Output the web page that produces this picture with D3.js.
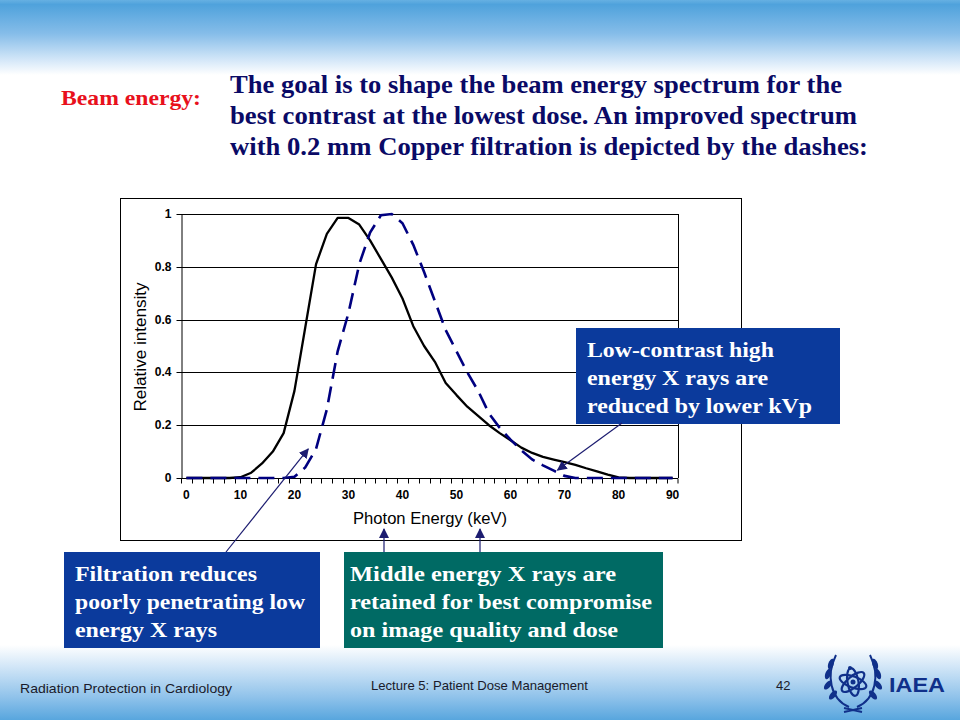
<!doctype html>
<html>
  <head>
    <title>Beam energy spectrum</title>
    <style>
      body { margin: 0; background: #fff; }
      .serif { font-family: "Liberation Serif", "Times New Roman", Times, serif; font-weight: bold; }
      .sans { font-family: "Liberation Sans", Arial, sans-serif; }
      .narrow { font-family: "Liberation Sans Narrow", "Arial Narrow", "Liberation Sans", Arial, sans-serif; }
      .tick-label { font-size: 12px; font-weight: bold; }
    </style>
  </head>
  <body>
    <div id="content"></div>

    <script src="https://d3js.org/d3.v7.min.js"></script>
    <script>
      // photon energy categories (keV) and relative intensities
      const energy = [0, 2, 4, 6, 8, 10, 12, 14, 16, 18, 20, 22, 24, 26, 28, 30, 32, 34, 36, 38, 40, 42, 44,
        46, 48, 50, 52, 54, 56, 58, 60, 62, 64, 66, 68, 70, 72, 74, 76, 78, 80, 82, 84, 86, 88, 90];
      const unfiltered = [0, 0, 0, 0, 0, 0.003, 0.02, 0.055, 0.10, 0.17, 0.33, 0.57, 0.81, 0.925, 0.985, 0.985,
        0.96, 0.90, 0.83, 0.76, 0.68, 0.575, 0.50, 0.44, 0.36, 0.314, 0.27, 0.235, 0.20, 0.17, 0.143, 0.115,
        0.095, 0.08, 0.07, 0.06, 0.05, 0.037, 0.025, 0.013, 0.002, 0, 0, 0, 0, 0];
      const copperFiltered = [0, 0, 0, 0, 0, 0, 0, 0, 0, 0, 0.005, 0.04, 0.11, 0.26, 0.48, 0.625, 0.81, 0.93,
        0.995, 1.0, 0.965, 0.883, 0.78, 0.67, 0.56, 0.48, 0.40, 0.33, 0.245, 0.19, 0.145, 0.105, 0.07, 0.048,
        0.028, 0.008, 0, 0, 0, 0, 0, 0, 0, 0, 0, 0];
      const xLabels = [0, 10, 20, 30, 40, 50, 60, 70, 80, 90];
      const yTicks = [0, 0.2, 0.4, 0.6, 0.8, 1];

      const headerLines = [
        'The goal is to shape the beam energy spectrum for the',
        'best contrast at the lowest dose. An improved spectrum',
        'with 0.2 mm Copper filtration is depicted by the dashes:'
      ];
      const headerWidths = [612, 627, 638];

      const notes = [
        { lines: ['Low-contrast high', 'energy X rays are', 'reduced by lower kVp'], fill: '#0b3a9c',
          box: [576, 328, 264, 96], pad: 11, widths: [187, 181, 225] },
        { lines: ['Filtration reduces', 'poorly penetrating low', 'energy X rays'], fill: '#0b3a9c',
          box: [64, 552, 256, 96], pad: 11, widths: [182, 230, 142] },
        { lines: ['Middle energy X rays are', 'retained for best compromise', 'on image quality and dose'],
          fill: '#006a64', box: [344, 552, 319, 96], pad: 6, widths: [266, 302, 268] }
      ];

      const W = 960, H = 720;
      const plot = { left: 181, right: 678, top: 214, bottom: 478 };

      const svg = d3.select('#content')
        .append('svg')
        .attr('width', W)
        .attr('height', H);

      const defs = svg.append('defs');
      const topGrad = defs.append('linearGradient').attr('id', 'top-grad')
        .attr('x1', 0).attr('y1', 0).attr('x2', 0).attr('y2', 1);
      [[0, '#66b0e2'], [0.06, '#4fa2dc'], [0.45, '#86bde9'], [0.8, '#d4e7f8'], [1, '#ffffff']]
        .forEach(([o, c]) => topGrad.append('stop').attr('offset', o).attr('stop-color', c));
      const bottomGrad = defs.append('linearGradient').attr('id', 'bottom-grad')
        .attr('x1', 0).attr('y1', 0).attr('x2', 0).attr('y2', 1);
      [[0, '#ffffff'], [0.3, '#d0e5f7'], [0.7, '#8fc2ea'], [1, '#58a6de']]
        .forEach(([o, c]) => bottomGrad.append('stop').attr('offset', o).attr('stop-color', c));

      defs.append('marker')
        .attr('id', 'arrow')
        .attr('viewBox', '0 0 10 10')
        .attr('refX', 9).attr('refY', 5)
        .attr('markerWidth', 10).attr('markerHeight', 10)
        .attr('markerUnits', 'userSpaceOnUse')
        .attr('orient', 'auto')
        .append('path')
        .attr('d', 'M0,0 L10,5 L0,10 Z')
        .attr('fill', '#1c1c70');

      svg.append('rect').attr('width', W).attr('height', 75).attr('fill', 'url(#top-grad)');
      svg.append('rect').attr('y', 645).attr('width', W).attr('height', 75).attr('fill', 'url(#bottom-grad)');

      // slide heading
      svg.append('text')
        .attr('class', 'serif')
        .attr('x', 61).attr('y', 105)
        .attr('font-size', 21)
        .attr('textLength', 140)
        .attr('lengthAdjust', 'spacingAndGlyphs')
        .attr('fill', '#e8101c')
        .text('Beam energy:');

      svg.append('g')
        .selectAll('text')
        .data(headerLines)
        .join('text')
        .attr('class', 'serif')
        .attr('x', 230)
        .attr('y', (d, i) => 93 + i * 31)
        .attr('font-size', 25)
        .attr('textLength', (d, i) => headerWidths[i])
        .attr('lengthAdjust', 'spacingAndGlyphs')
        .attr('fill', '#0a0a66')
        .text(d => d);

      // chart frame
      svg.append('rect')
        .attr('x', 120.5).attr('y', 198.5)
        .attr('width', 621).attr('height', 342)
        .attr('fill', '#fff')
        .attr('stroke', '#000');

      const x = d3.scaleBand()
        .domain(energy)
        .range([plot.left, plot.right])
        .padding(0);
      const y = d3.scaleLinear()
        .domain([0, 1])
        .range([plot.bottom, plot.top]);
      const xc = d => x(d) + x.bandwidth() / 2;

      // gridlines
      svg.append('g')
        .selectAll('line')
        .data(yTicks.slice(1))
        .join('line')
        .attr('x1', plot.left).attr('x2', plot.right)
        .attr('y1', d => Math.round(y(d)) + 0.5).attr('y2', d => Math.round(y(d)) + 0.5)
        .attr('stroke', '#000');

      svg.append('line')
        .attr('x1', plot.right + 0.5).attr('x2', plot.right + 0.5)
        .attr('y1', plot.top).attr('y2', plot.bottom)
        .attr('stroke', '#000');

      // y axis
      const yAxis = svg.append('g')
        .attr('transform', `translate(${plot.left + 0.5},0.5)`)
        .call(d3.axisLeft(y).tickValues(yTicks).tickFormat(d3.format('')).tickSize(5).tickSizeOuter(0));
      yAxis.selectAll('text').attr('class', 'sans tick-label').attr('fill', '#000').attr('dx', -2);
      yAxis.selectAll('line, path').attr('stroke', '#000');
      yAxis.selectAll('.tick').attr('transform', d => `translate(0,${Math.round(y(d))})`);

      // x axis: ticks on category boundaries, labels every 10 keV
      const xAxis = svg.append('g').attr('transform', `translate(0,${Math.round(plot.bottom) + 0.5})`);
      xAxis.append('line')
        .attr('x1', plot.left).attr('x2', plot.right)
        .attr('stroke', '#000');
      xAxis.selectAll('line.tk')
        .data(energy.concat(['end']))
        .join('line')
        .attr('class', 'tk')
        .attr('x1', d => d === 'end' ? plot.right : Math.round(x(d)) + 0.5)
        .attr('x2', d => d === 'end' ? plot.right : Math.round(x(d)) + 0.5)
        .attr('y1', 0).attr('y2', 5)
        .attr('stroke', '#000');
      xAxis.selectAll('text')
        .data(xLabels)
        .join('text')
        .attr('class', 'sans tick-label')
        .attr('x', d => xc(d))
        .attr('y', 20)
        .attr('text-anchor', 'middle')
        .text(d => d);

      svg.append('text')
        .attr('class', 'sans')
        .attr('transform', `translate(146,${(plot.top + plot.bottom) / 2 + 1}) rotate(-90)`)
        .attr('text-anchor', 'middle')
        .attr('font-size', 16)
        .attr('textLength', 129)
        .attr('lengthAdjust', 'spacingAndGlyphs')
        .text('Relative intensity');

      svg.append('text')
        .attr('class', 'sans')
        .attr('x', 430).attr('y', 524)
        .attr('text-anchor', 'middle')
        .attr('font-size', 16)
        .attr('textLength', 154)
        .attr('lengthAdjust', 'spacingAndGlyphs')
        .text('Photon Energy (keV)');

      // spectra
      const line = d3.line()
        .x(d => xc(d[0]))
        .y(d => y(d[1]));

      svg.append('path')
        .datum(energy.map((e, i) => [e, unfiltered[i]]))
        .attr('d', line)
        .attr('fill', 'none')
        .attr('stroke', '#000')
        .attr('stroke-width', 2.3)
        .attr('stroke-linejoin', 'round');

      svg.append('path')
        .datum(energy.map((e, i) => [e, copperFiltered[i]]))
        .attr('d', line)
        .attr('fill', 'none')
        .attr('stroke', '#000080')
        .attr('stroke-width', 2.6)
        .attr('stroke-dasharray', '16,8');

      // callout boxes
      const noteG = svg.append('g')
        .selectAll('g')
        .data(notes)
        .join('g');
      noteG.append('rect')
        .attr('x', d => d.box[0]).attr('y', d => d.box[1])
        .attr('width', d => d.box[2]).attr('height', d => d.box[3])
        .attr('fill', d => d.fill);
      noteG.each(function (d) {
        d3.select(this).selectAll('text')
          .data(d.lines)
          .join('text')
          .attr('class', 'serif')
          .attr('x', d.box[0] + d.pad)
          .attr('y', (t, i) => d.box[1] + 29 + i * 28)
          .attr('font-size', 22)
          .attr('textLength', (t, i) => d.widths[i])
          .attr('lengthAdjust', 'spacingAndGlyphs')
          .attr('fill', '#fff')
          .text(t => t);
      });

      // arrows
      const arrows = [
        [622, 423, xc(70) - 7, y(0.03)],
        [226, 552, xc(22) + 3, y(0.11)],
        [384, 552, 384, 529],
        [480, 552, 480, 529]
      ];
      svg.append('g')
        .selectAll('line')
        .data(arrows)
        .join('line')
        .attr('x1', d => d[0]).attr('y1', d => d[1])
        .attr('x2', d => d[2]).attr('y2', d => d[3])
        .attr('stroke', '#1c1c70')
        .attr('stroke-width', 1.2)
        .attr('marker-end', 'url(#arrow)');

      // footer
      const footer = svg.append('g').attr('class', 'narrow').attr('font-size', 13).attr('fill', '#1a1a2a');
      footer.append('text').attr('x', 20).attr('y', 693)
        .attr('textLength', 212).attr('lengthAdjust', 'spacingAndGlyphs')
        .text('Radiation Protection in Cardiology');
      footer.append('text').attr('x', 371).attr('y', 690)
        .attr('textLength', 217).attr('lengthAdjust', 'spacingAndGlyphs')
        .text('Lecture 5: Patient Dose Management');
      footer.append('text').attr('x', 776).attr('y', 690).text('42');

      // IAEA emblem
      const logo = svg.append('g')
        .attr('transform', 'translate(853,682)')
        .attr('fill', 'none')
        .attr('stroke', '#10308a');
      [-1, 1].forEach(s => {
        const branch = logo.append('g').attr('transform', `scale(${s},1)`);
        branch.append('path')
          .attr('d', 'M-4,25 C-23,17 -27,-7 -17,-27')
          .attr('stroke-width', 2);
        [[-20, 13], [-25, 3], [-25, -8], [-22, -18]].forEach(([lx, ly]) => {
          branch.append('ellipse')
            .attr('cx', lx).attr('cy', ly).attr('rx', 2.7).attr('ry', 5.5)
            .attr('transform', `rotate(${ly > 0 ? 40 : 20},${lx},${ly})`)
            .attr('fill', '#10308a').attr('stroke', 'none');
        });
      });
      logo.append('path').attr('d', 'M-9,26 L9,30 M9,26 L-9,30').attr('stroke-width', 1.8);
      [0, 60, 120].forEach(a => {
        logo.append('ellipse')
          .attr('rx', 14).attr('ry', 5.5)
          .attr('transform', `rotate(${a + 20})`)
          .attr('stroke-width', 2.2);
      });
      logo.append('circle').attr('r', 2.5).attr('fill', '#10308a').attr('stroke', 'none');
      logo.append('circle').attr('cx', -3).attr('cy', -14).attr('r', 2).attr('fill', '#10308a').attr('stroke', 'none');

      svg.append('text')
        .attr('class', 'sans')
        .attr('x', 889).attr('y', 692)
        .attr('font-size', 21)
        .attr('font-weight', 'bold')
        .attr('textLength', 56)
        .attr('lengthAdjust', 'spacingAndGlyphs')
        .attr('fill', '#10308a')
        .text('IAEA');
    </script>
  </body>
</html>
